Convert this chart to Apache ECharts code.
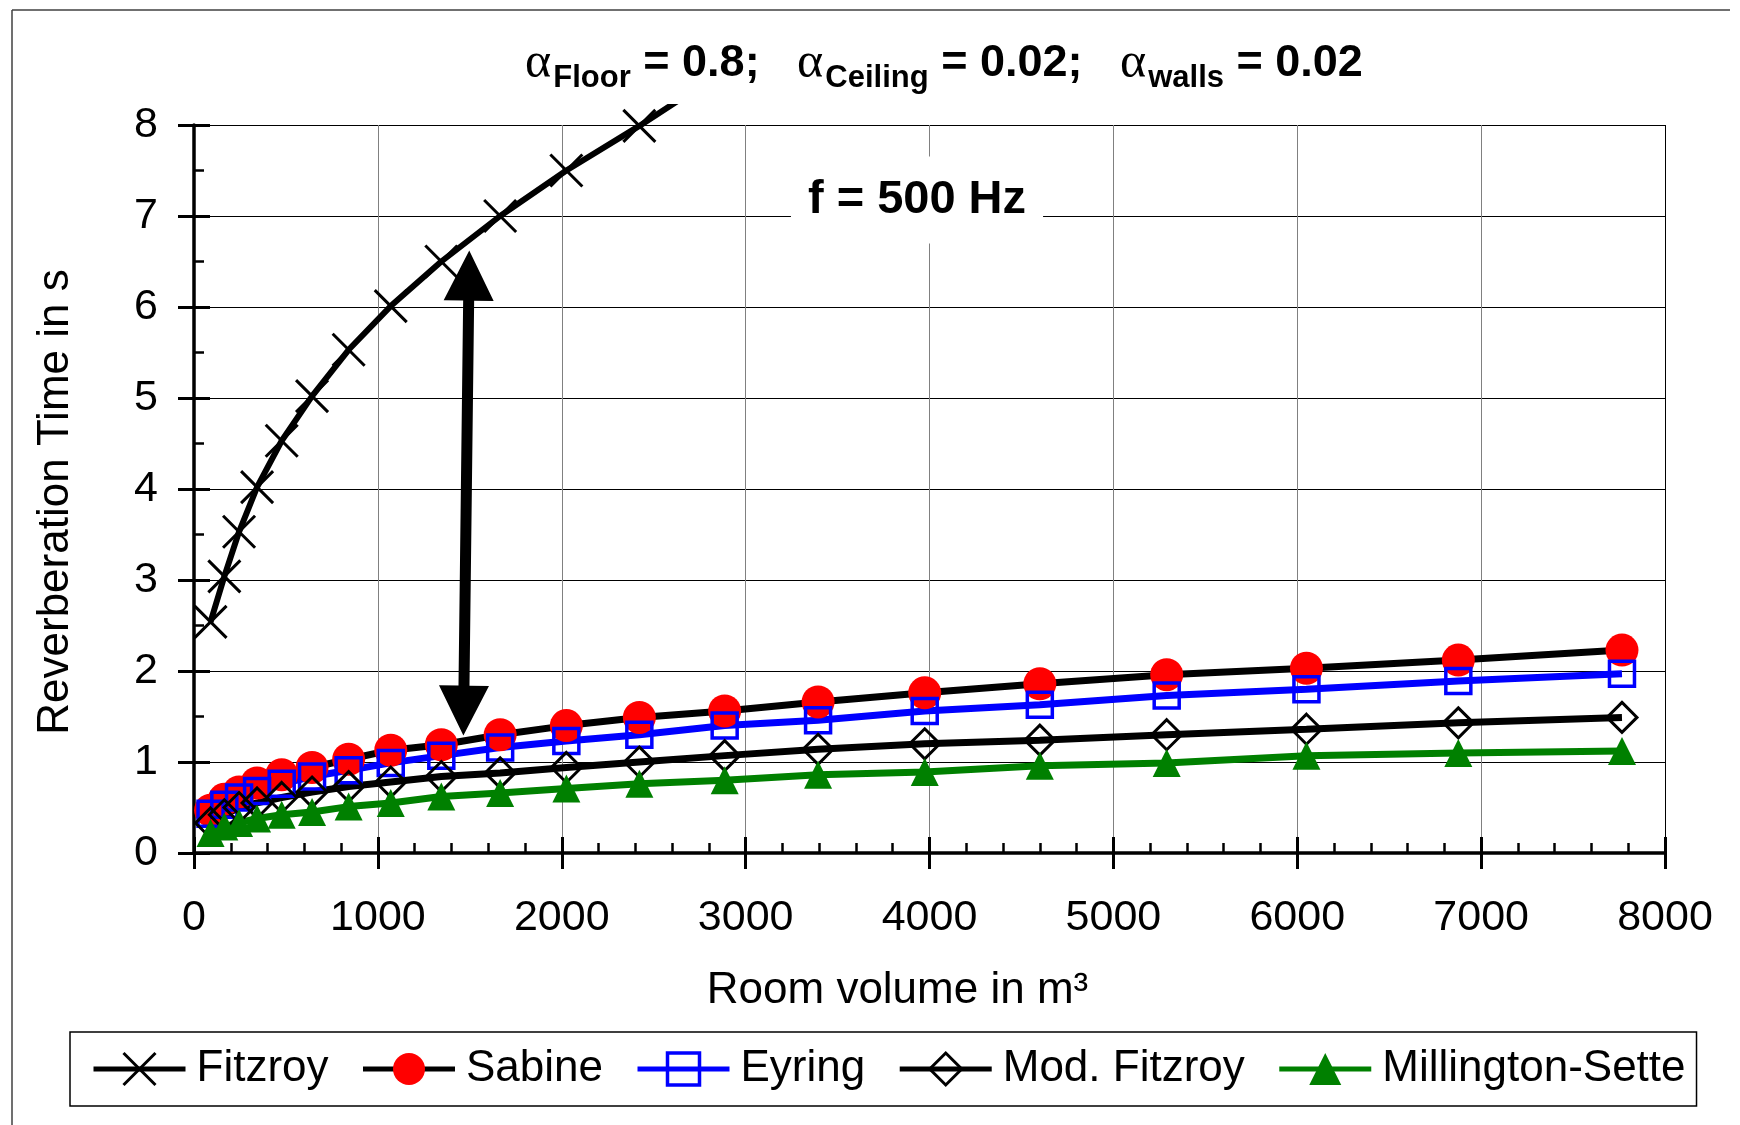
<!DOCTYPE html>
<html>
<head>
<meta charset="utf-8">
<title>Reverberation time vs room volume</title>
<script src="https://cdn.jsdelivr.net/npm/echarts@6/dist/echarts.min.js"></script>
<style>
    html, body { margin: 0; padding: 0; background: #fff; }
    #chart { width: 1740px; height: 1125px; }
</style>
</head>
<body>
<div id="chart"></div>
<script>
// room volumes in m³ (shared by all curves)
let volume = [90, 165, 245, 343, 477, 642, 841, 1070, 1345, 1665, 2025, 2422, 2886, 3394, 3974, 4600, 5290, 6050, 6876, 7766];

// reverberation times in s
let fitzroy = [2.54, 3.04, 3.53, 4.02, 4.53, 5.02, 5.53, 6.01, 6.50, 7.00, 7.50, 7.99, 8.60];
let sabine = [0.47, 0.59, 0.67, 0.77, 0.86, 0.94, 1.03, 1.13, 1.19, 1.30, 1.40, 1.49, 1.56, 1.66, 1.76, 1.86, 1.96, 2.03, 2.12, 2.23];
let eyring = [0.43, 0.53, 0.61, 0.68, 0.76, 0.84, 0.91, 0.99, 1.07, 1.16, 1.23, 1.30, 1.40, 1.46, 1.56, 1.63, 1.73, 1.80, 1.89, 1.97];
let modFitzroy = [0.33, 0.42, 0.50, 0.55, 0.61, 0.67, 0.73, 0.78, 0.84, 0.88, 0.94, 1.00, 1.07, 1.14, 1.20, 1.24, 1.30, 1.36, 1.43, 1.49];
let millington = [0.22, 0.29, 0.33, 0.38, 0.42, 0.45, 0.51, 0.55, 0.62, 0.66, 0.71, 0.76, 0.80, 0.86, 0.89, 0.96, 0.99, 1.07, 1.10, 1.12];

let seriesNames = ['Fitzroy', 'Sabine', 'Eyring', 'Mod. Fitzroy', 'Millington-Sette'];

// double arrow between Fitzroy and the rest, in data units (volume, seconds)
let arrowBottom = [1465, 1.29];
let arrowTop = [1497, 6.62];

let font = '"Liberation Sans", Arial, sans-serif';
let greek = '"Liberation Serif", "DejaVu Serif", serif';

let pairs = function (ys) {
    return ys.map(function (y, i) {
        return [volume[i], y];
    });
};

let plot = {left: 194, right: 75, top: 125, bottom: 272};
// the Fitzroy curve runs a little above the 8 s line before the plot cuts it
let overshoot = 18;
let plotHeight = 1125 - plot.top - plot.bottom;
let fitzroyMax = 8 * (plotHeight + overshoot) / plotHeight;

let xGridColors = ['#808080', '#808080', '#808080', '#808080', '#808080', '#808080', '#808080', '#808080', '#000'];

let chart = echarts.init(document.getElementById('chart'));

let option = {
    animation: false,
    backgroundColor: '#fff',
    grid: [
        {left: plot.left, right: plot.right, top: plot.top, bottom: plot.bottom},
        {left: plot.left, right: plot.right, top: plot.top - overshoot, bottom: plot.bottom}
    ],
    legend: {
        data: seriesNames,
        left: 70,
        top: 1032,
        padding: [15, 11, 15, 21],
        itemGap: 32,
        itemWidth: 92,
        itemHeight: 40,
        borderColor: '#000',
        borderWidth: 1.5,
        selectedMode: false,
        lineStyle: {width: 5},
        itemStyle: {borderWidth: 'inherit'},
        textStyle: {fontSize: 44, color: '#000', fontFamily: font, padding: [0, 0, 0, 6]}
    },
    xAxis: [
        {
            gridIndex: 0, type: 'value', min: 0, max: 8000, interval: 1000, position: 'bottom',
            axisLine: {show: true, onZero: false, lineStyle: {color: '#000', width: 3.5}},
            axisTick: {show: true, inside: false, length: 16, lineStyle: {color: '#000', width: 3}},
            axisLabel: {
                margin: 44, fontSize: 43, color: '#000', fontFamily: font,
                formatter: function (v) {
                    return String(v);
                }
            },
            splitLine: {show: true, lineStyle: {color: xGridColors, width: 1}},
            name: 'Room volume in m³',
            nameLocation: 'middle',
            nameGap: 116,
            nameTextStyle: {fontSize: 44, color: '#000', fontFamily: font, padding: [0, 64, 0, 0]}
        },
        {
            // inner half of the major ticks plus the minor ticks
            gridIndex: 0, type: 'value', min: 0, max: 8000, interval: 1000, position: 'bottom',
            axisLine: {show: false},
            axisTick: {show: true, inside: true, length: 16, lineStyle: {color: '#000', width: 3}},
            minorTick: {show: true, splitNumber: 5, length: 10, lineStyle: {color: '#000', width: 2.5}},
            axisLabel: {show: false},
            splitLine: {show: false}
        },
        {gridIndex: 1, type: 'value', min: 0, max: 8000, show: false}
    ],
    yAxis: [
        {
            gridIndex: 0, type: 'value', min: 0, max: 8, interval: 1, position: 'left',
            axisLine: {show: true, onZero: false, lineStyle: {color: '#000', width: 3.5}},
            axisTick: {show: true, inside: false, length: 16, lineStyle: {color: '#000', width: 3}},
            axisLabel: {margin: 36, fontSize: 43, color: '#000', fontFamily: font},
            splitLine: {show: true, lineStyle: {color: '#000', width: 1}},
            name: 'Reverberation Time in s',
            nameLocation: 'middle',
            nameGap: 116,
            nameTextStyle: {fontSize: 44, color: '#000', fontFamily: font, padding: [0, 26, 0, 0]}
        },
        {
            gridIndex: 0, type: 'value', min: 0, max: 8, interval: 1, position: 'left',
            axisLine: {show: false},
            axisTick: {show: true, inside: true, length: 16, lineStyle: {color: '#000', width: 3}},
            minorTick: {show: true, splitNumber: 2, length: 10, lineStyle: {color: '#000', width: 2.5}},
            axisLabel: {show: false},
            splitLine: {show: false}
        },
        {gridIndex: 1, type: 'value', min: 0, max: fitzroyMax, show: false}
    ],
    series: [
        {
            name: 'Fitzroy', type: 'line', xAxisIndex: 2, yAxisIndex: 2,
            data: pairs(fitzroy),
            showAllSymbol: true,
            symbol: 'path://M0 0L10 10M10 0L0 10',
            symbolSize: 32,
            lineStyle: {color: '#000', width: 6},
            itemStyle: {color: 'transparent', borderColor: '#000', borderWidth: 3}
        },
        {
            name: 'Sabine', type: 'line', xAxisIndex: 0, yAxisIndex: 0,
            data: pairs(sabine),
            showAllSymbol: true,
            symbol: 'circle',
            symbolSize: 33,
            lineStyle: {color: '#000', width: 7},
            itemStyle: {color: '#ff0000'}
        },
        {
            name: 'Eyring', type: 'line', xAxisIndex: 0, yAxisIndex: 0,
            data: pairs(eyring),
            showAllSymbol: true,
            symbol: 'rect',
            symbolSize: 25,
            lineStyle: {color: '#0000ff', width: 7},
            itemStyle: {color: 'transparent', borderColor: '#0000ff', borderWidth: 3.5}
        },
        {
            name: 'Mod. Fitzroy', type: 'line', xAxisIndex: 0, yAxisIndex: 0,
            data: pairs(modFitzroy),
            showAllSymbol: true,
            symbol: 'diamond',
            symbolSize: [30, 30],
            lineStyle: {color: '#000', width: 7},
            itemStyle: {color: 'transparent', borderColor: '#000', borderWidth: 3}
        },
        {
            name: 'Millington-Sette', type: 'line', xAxisIndex: 0, yAxisIndex: 0,
            data: pairs(millington),
            showAllSymbol: true,
            symbol: 'triangle',
            symbolSize: 28,
            lineStyle: {color: '#008000', width: 7},
            itemStyle: {color: '#008000'}
        }
    ]
};
chart.setOption(option, true);

// double headed arrow, laid out in pixels from its data end points
let arrow_points = function (from, to) {
    let a = chart.convertToPixel({gridIndex: 0}, from);
    let b = chart.convertToPixel({gridIndex: 0}, to);
    let dx = b[0] - a[0], dy = b[1] - a[1];
    let len = Math.sqrt(dx * dx + dy * dy);
    let ux = dx / len, uy = dy / len;
    let nx = -uy, ny = ux;
    let head = 50, halfHead = 25, halfShaft = 5.5;
    let p = function (base, along, across) {
        return [base[0] + ux * along + nx * across, base[1] + uy * along + ny * across];
    };
    return [
        b,
        p(b, -head, halfHead), p(b, -head, halfShaft),
        p(a, head, halfShaft), p(a, head, halfHead),
        a,
        p(a, head, -halfHead), p(a, head, -halfShaft),
        p(b, -head, -halfShaft), p(b, -head, -halfHead)
    ];
};

chart.setOption({
    graphic: [
        {
            id: 'frameTop', type: 'line', z: 1,
            shape: {x1: 12, y1: 10, x2: 1730, y2: 10},
            style: {stroke: '#404040', lineWidth: 1.5}
        },
        {
            id: 'frameLeft', type: 'line', z: 1,
            shape: {x1: 12, y1: 10, x2: 12, y2: 1125},
            style: {stroke: '#404040', lineWidth: 1.5}
        },
        {
            id: 'title', type: 'text', x: 944, y: 64, z: 10,
            style: {
                text: '{a|α}{s|Floor}{b| = 0.8;   }{a|α}{s|Ceiling}{b| = 0.02;   }{a|α}{s|walls}{b| = 0.02}',
                align: 'center',
                verticalAlign: 'middle',
                rich: {
                    a: {fontSize: 50, fontFamily: greek, fill: '#000'},
                    s: {fontSize: 31, fontWeight: 'bold', fontFamily: font, fill: '#000', padding: [28, 0, 0, 2]},
                    b: {fontSize: 45, fontWeight: 'bold', fontFamily: font, fill: '#000'}
                }
            }
        },
        {
            id: 'freq', type: 'text', x: 917, y: 200, z: 10,
            style: {
                text: 'f = 500 Hz',
                fontSize: 47,
                fontWeight: 'bold',
                fontFamily: font,
                fill: '#000',
                align: 'center',
                verticalAlign: 'middle',
                backgroundColor: '#fff',
                padding: [20, 17, 20, 17]
            }
        },
        {
            id: 'arrow', type: 'polygon', z: 20,
            shape: {points: arrow_points(arrowBottom, arrowTop)},
            style: {fill: '#000'}
        }
    ]
});
</script>
</body>
</html>
